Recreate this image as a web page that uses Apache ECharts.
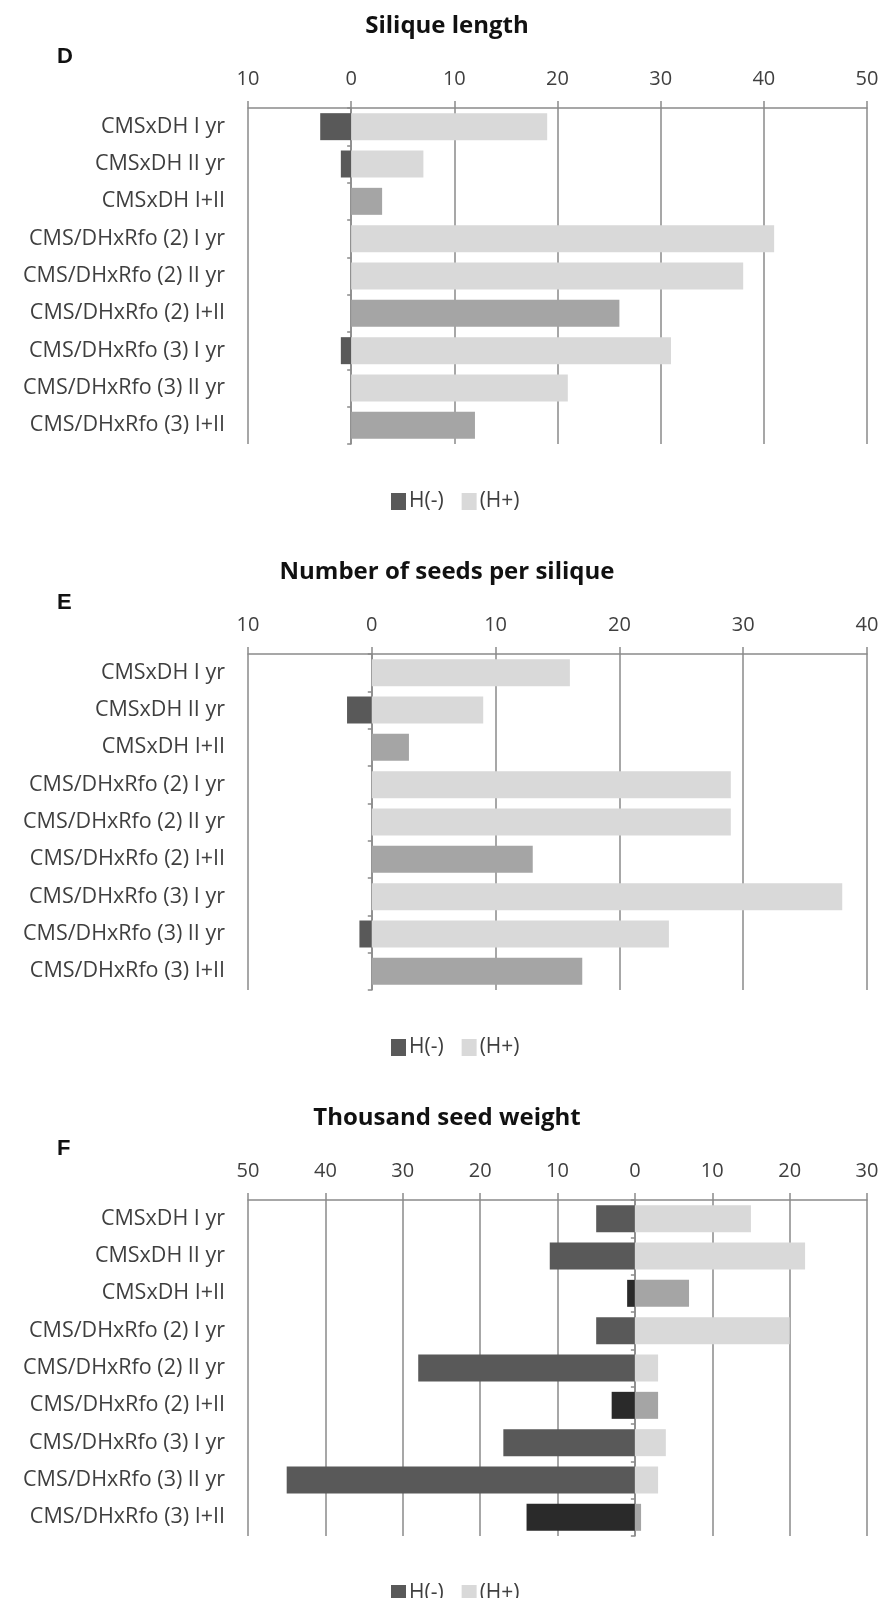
<!DOCTYPE html>
<html>
<head>
<meta charset="utf-8">
<script src="https://cdn.jsdelivr.net/npm/echarts@6/dist/echarts.min.js"></script>
<style>
html,body{margin:0;padding:0;background:#fff;}
#chart{width:894px;height:1598px;}
</style>
</head>
<body>
<div id="chart"></div>
<script>
// ---- data ----
const categories = ['CMSxDH I yr','CMSxDH II yr','CMSxDH I+II','CMS/DHxRfo (2) I yr','CMS/DHxRfo (2) II yr','CMS/DHxRfo (2) I+II','CMS/DHxRfo (3) I yr','CMS/DHxRfo (3) II yr','CMS/DHxRfo (3) I+II'];
const panelLetters = ['D','E','F'];
const panelTitles = ['Silique length','Number of seeds per silique','Thousand seed weight'];
const seriesNames = ['H(-)','(H+)'];

const silNeg = [-3, -1, 0, 0, 0, 0, -1, 0, 0];
const silPos = [19, 7, 3, 41, 38, 26, 31, 21, 12];
const seedNeg = [0, -2, 0, 0, 0, 0, 0, -1, 0];
const seedPos = [16, 9, 3, 29, 29, 13, 38, 24, 17];
const tswNeg = [-5, -11, -1, -5, -28, -3, -17, -45, -14];
const tswPos = [15, 22, 7, 20, 3, 3, 4, 3, 0.8];

const axisMins = [-10, -10, -50];
const axisMaxs = [50, 40, 30];
const axisStep = 10;

// ---- styling ----
const negColor = '#595959', posColor = '#d9d9d9';
const negMixColor = '#2a2a2a', posMixColor = '#a5a5a5';
const gridColor = '#8a8a8a';
const textColor = '#3f3f3f';
const font = 'Open Sans';
const panelTops = [108, 654, 1200];
const plotHeight = 336;
const negData = [silNeg, seedNeg, tswNeg];
const posData = [silPos, seedPos, tswPos];

const isCombined = c => c.endsWith('I+II');

const option = {
  animation: false,
  backgroundColor: '#fff',
  title: [], grid: [], xAxis: [], yAxis: [], series: [], legend: []
};

for (let p = 0; p < 3; p++) {
  const top = panelTops[p];
  option.title.push({
    text: panelTitles[p], left: 'center', top: top - 99,
    textStyle: {fontFamily: font, fontWeight: 'bold', fontSize: 24, color: '#111'}
  });
  option.title.push({
    text: panelLetters[p], left: 52, top: top - 67,
    textStyle: {fontFamily: 'Liberation Sans', fontWeight: 'bold', fontSize: 22, color: '#111'}
  });
  option.grid.push({left: 248, right: 27, top: top, height: plotHeight});
  option.xAxis.push({
    type: 'value', gridIndex: p, position: 'top',
    min: axisMins[p], max: axisMaxs[p], interval: axisStep,
    axisLine: {show: true, onZero: false, lineStyle: {color: gridColor, width: 1.5}},
    axisTick: {show: true, length: 7, lineStyle: {color: gridColor, width: 1.5}},
    splitLine: {show: true, lineStyle: {color: gridColor, width: 1.5}},
    axisLabel: {formatter: v => String(Math.abs(v)), fontFamily: font, fontSize: 20, color: textColor, margin: 19}
  });
  // label axis at the left edge
  option.yAxis.push({
    type: 'category', gridIndex: p, data: categories, inverse: true, position: 'left',
    axisLine: {show: false, onZero: false}, axisTick: {show: false},
    axisLabel: {fontFamily: font, fontSize: 21.5, color: textColor, margin: 23}
  });
  // category axis crossing at zero (ticks only)
  option.yAxis.push({
    type: 'category', gridIndex: p, data: categories, inverse: true, position: 'left',
    axisLine: {show: true, onZero: true, lineStyle: {color: gridColor, width: 1.5}},
    axisTick: {show: true, length: 4, lineStyle: {color: gridColor, width: 1.5}},
    axisLabel: {show: false}
  });
  const yIdx = p * 2;
  option.series.push({
    name: seriesNames[0], type: 'bar', xAxisIndex: p, yAxisIndex: yIdx,
    barWidth: 27, barGap: '-100%',
    itemStyle: {color: negColor},
    data: negData[p].map((v, i) => isCombined(categories[i]) ? {value: v, itemStyle: {color: negMixColor}} : v)
  });
  option.series.push({
    name: seriesNames[1], type: 'bar', xAxisIndex: p, yAxisIndex: yIdx,
    barWidth: 27, barGap: '-100%',
    itemStyle: {color: posColor},
    data: posData[p].map((v, i) => isCombined(categories[i]) ? {value: v, itemStyle: {color: posMixColor}} : v)
  });
  option.legend.push({
    data: seriesNames, left: 386, top: top + plotHeight + 42,
    itemWidth: 15, itemHeight: 17, itemGap: 18, icon: 'rect',
    textStyle: {fontFamily: font, fontSize: 21, color: textColor, padding: [0, 0, 0, -2]}
  });
}

const chart = echarts.init(document.getElementById('chart'), null, {renderer: 'canvas'});
chart.setOption(option);
</script>
</body>
</html>
